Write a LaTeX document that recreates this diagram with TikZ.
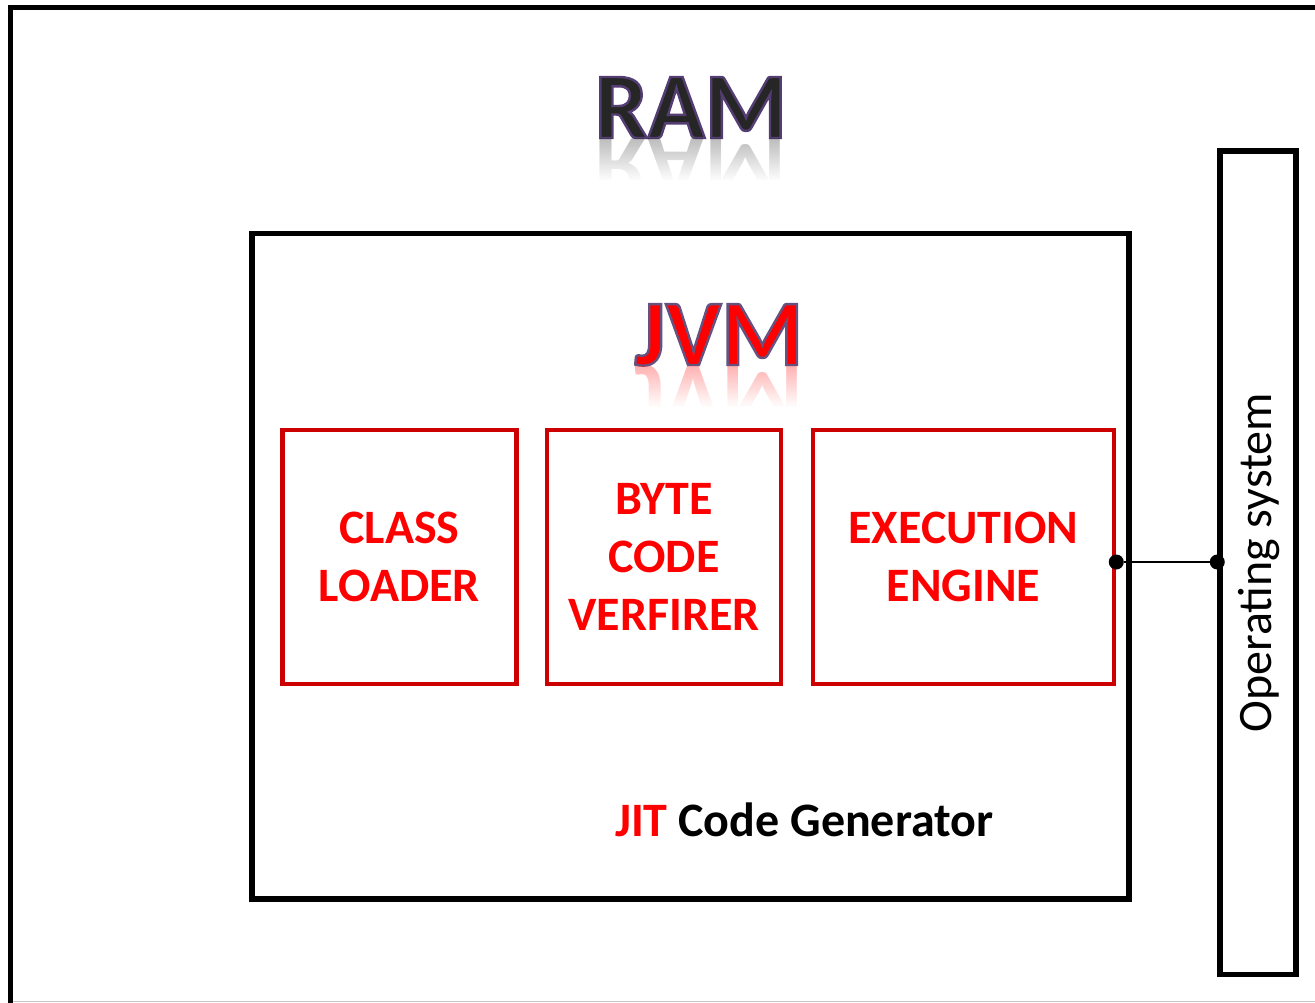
\documentclass[tikz,border=0pt]{standalone}
\usepackage{fontspec}
\setmainfont{Carlito}
\usetikzlibrary{fadings}

\definecolor{boxred}{RGB}{204,0,0}
\definecolor{txtred}{RGB}{255,0,0}
\definecolor{ramgray}{RGB}{38,38,38}

% glyphs filled and stroked with a thin rim of colour #1 (r g b)
\newcommand\rimmed[2]{\special{pdf:literal 2 Tr 2.4 w #1 RG}#2\special{pdf:literal 0 Tr}}

\begin{document}
\begin{tikzpicture}[
        x=1pt, y=-1pt,
        part/.style={draw=boxred, line width=4.5pt, inner sep=0pt, minimum height=254pt,
            text=txtred, align=center, font=\fontsize{48}{58}\selectfont\bfseries},
        headline/.style={anchor=base, inner sep=0pt, font=\fontsize{94}{94}\selectfont\bfseries},
        mirror/.style={headline, yscale=-1, opacity=0.3},
        boxline/.style={draw, line width=5.5pt, inner sep=0pt},
        joint/.style={circle, fill=black, inner sep=0pt, minimum size=15pt}]

    \useasboundingbox (0,0) rectangle (1315,1003);

    % --- RAM (outer box, runs off the page) ---
    \draw[line width=5.5pt] (10.5,1040) |- (1340,7.5);
    \draw[gray!45, line width=1.5pt] (13,1001.5) -- (1315,1001.5);
    \node[headline, text=ramgray] (ram) at (691,138) {\rimmed{0.33 0.24 0.45}{RAM}};
    \begin{scope}
        \clip (560,139) rectangle (830,180);
        \node[mirror, text=ramgray] (ramecho) at (ram.base) {RAM};
    \end{scope}
    \fill[white, path fading=north] (560,139) rectangle (830,181);

    % --- JVM ---
    \node[boxline, minimum width=877pt, minimum height=665.5pt] (jvm) at (690.5,566.25) {};
    \node[headline, text=txtred] (jvmtitle) at (719,365) {\rimmed{0.40 0.32 0.50}{JVM}};
    \begin{scope}
        \clip (600,366) rectangle (840,406);
        \node[mirror, text=txtred] (jvmecho) at (jvmtitle.base) {JVM};
    \end{scope}
    \fill[white, path fading=north] (600,366) rectangle (840,407);

    % JVM parts
    \node[part, minimum width=234pt] (loader) at (399.5,557) {CLASS\\LOADER};
    \node[part, minimum width=234pt] (verifier) at (664,557) {BYTE\\CODE\\VERFIRER};
    \node[part, minimum width=301pt] (exec) at (963.5,557) {EXECUTION\\ENGINE};

    \node[anchor=base west, inner sep=0pt, font=\fontsize{48}{48}\selectfont\bfseries] (jit)
        at (615,836) {\textcolor{txtred}{JIT} Code Generator};

    % --- Operating system ---
    \node[boxline, minimum width=76pt, minimum height=823.5pt] (os) at (1258,562.75) {};
    \node[rotate=90, inner sep=0pt, font=\fontsize{48}{48}\selectfont] (ostext) at ([xshift=1pt]os.center) {Operating system};

    % link from the engine to the OS
    \node[joint] (tapA) at ([yshift=-5pt]exec.east) {};
    \node[joint] (tapB) at (tapA -| os.west) {};
    \draw[line width=2.5pt] (tapA) -- (tapB);

\end{tikzpicture}
\end{document}
